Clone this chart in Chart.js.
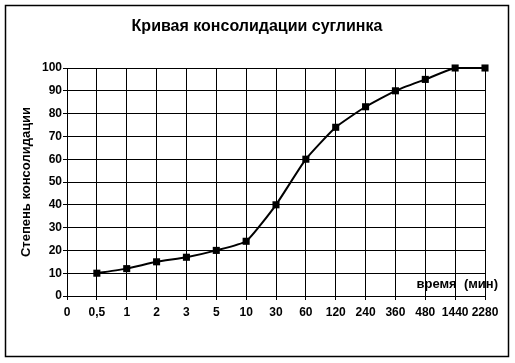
<!DOCTYPE html>
<html>
<head>
<meta charset="utf-8">
<script src="https://cdn.jsdelivr.net/npm/chart.js@4/dist/chart.umd.min.js"></script>
<style>
  html, body { margin: 0; padding: 0; background: #fff; }
  canvas { display: block; }
</style>
</head>
<body>
<canvas id="chart" width="515" height="363"></canvas>
<script>
const timeLabels = ["0", "0,5", "1", "2", "3", "5", "10", "30", "60", "120", "240", "360", "480", "1440", "2280"];
const consolidation = [null, 10, 12, 15, 17, 20, 24, 40, 60, 74, 83, 90, 95, 100, 100];

const chartTitle = "Кривая консолидации суглинка";
const yTitle = "Степень консолидации";
const xTitle = "время  (мин)";

// frame, title and the x-axis caption inside the plot
const decorations = {
	id: "decorations",
	afterDraw(chart)
	{
		let ctx = chart.ctx;
		ctx.save();
		ctx.strokeStyle = "#000";
		ctx.lineWidth = 1.5;
		ctx.strokeRect(5.5, 5.5, 503, 351);

		ctx.fillStyle = "#000";
		ctx.textBaseline = "middle";
		ctx.font = "bold 16px 'Liberation Sans', Arial, sans-serif";
		ctx.textAlign = "center";
		ctx.fillText(chartTitle, 257, 27);

		ctx.font = "bold 13px 'Liberation Sans', Arial, sans-serif";
		ctx.textAlign = "right";
		ctx.fillText(xTitle, 498, 284);
		ctx.restore();
	}
};

const font = { family: "'Liberation Sans', Arial, sans-serif", size: 12, weight: "bold" };

new Chart(document.getElementById("chart"),
{
	type: "line",
	data:
	{
		labels: timeLabels,
		datasets: [{
			data: consolidation,
			borderColor: "#000",
			backgroundColor: "#000",
			borderWidth: 2,
			tension: 0.15,
			clip: false,
			pointStyle: "rect",
			pointRadius: 5,
			pointBorderWidth: 0
		}]
	},
	options:
	{
		responsive: false,
		animation: false,
		layout: { padding: { left: 0, top: 68, right: 30, bottom: 0 } },
		plugins:
		{
			legend: { display: false },
			tooltip: { enabled: false }
		},
		scales:
		{
			x:
			{
				offset: false,
				grid: { color: "#000", lineWidth: 1, tickLength: 4, offset: false },
				border: { color: "#000", width: 1 },
				ticks: { color: "#000", font: font, padding: 5, maxRotation: 0, autoSkip: false },
				afterFit: (s) => { s.height = 67; }
			},
			y:
			{
				min: 0,
				max: 100,
				grid: { color: "#000", lineWidth: 1, tickLength: 4 },
				border: { color: "#000", width: 1 },
				ticks: { color: "#000", font: font, stepSize: 10, padding: 1 },
				title:
				{
					display: true,
					text: yTitle,
					color: "#000",
					font: { family: "'Liberation Sans', Arial, sans-serif", size: 13, weight: "bold" },
					padding: { top: 19, bottom: 0 }
				},
				afterFit: (s) => { s.width = 67; }
			}
		}
	},
	plugins: [decorations]
});
</script>
</body>
</html>
